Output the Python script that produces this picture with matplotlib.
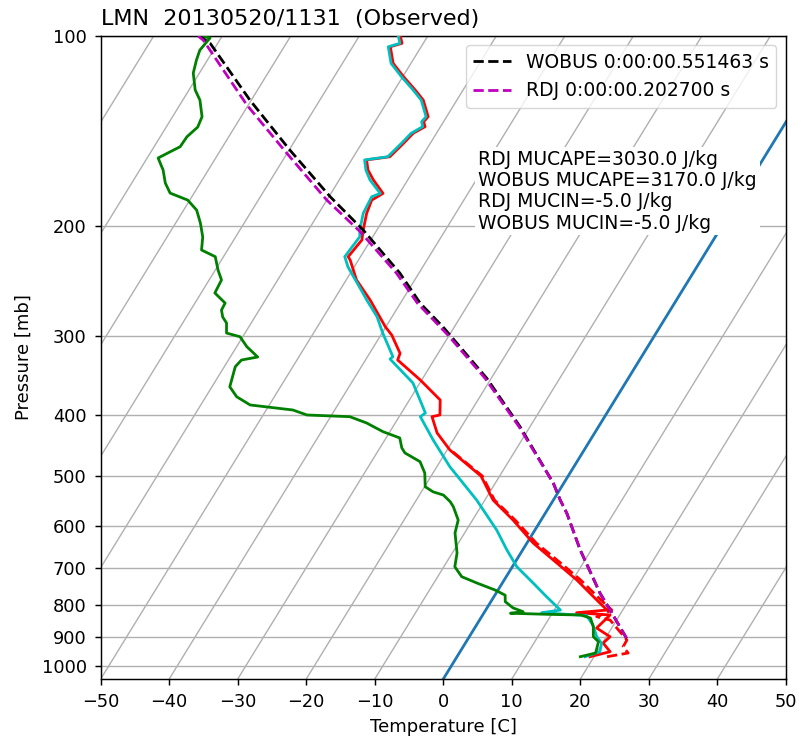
import numpy as np
import matplotlib
matplotlib.use("Agg")
import matplotlib.pyplot as plt
from matplotlib.ticker import FixedLocator, NullLocator, ScalarFormatter

# sounding (p in mb, T in C)
temp_p = [967.7, 950.2, 920.5, 899.5, 871.4, 830.8, 823.9, 815.9, 786.4, 731.0,
          686.9, 638.5, 587.0, 545.7, 500.0, 454.4, 426.9, 402.3, 399.8, 378.5,
          351.8, 327.0, 319.1, 298.5, 289.5, 262.6, 244.0, 226.9, 224.1, 210.8,
          203.3, 191.2, 182.2, 177.8, 169.3, 163.2, 157.3, 155.5, 148.0, 142.7,
          139.3, 136.8, 134.3, 126.4, 121.8, 116.0, 110.5, 104.0, 102.7, 100.0]
temp_t = [19.4, 21.9, 20.1, 20.55, 17.8, 18.6, 13.5, 17.7, 15.3, 10.6,
          6.15, 0.9, -4.1, -8.8, -12.7, -19.6, -23.0, -25.2, -24.2, -25.5,
          -30.2, -35.3, -35.55, -38.4, -40.1, -44.7, -48.5, -51.2, -51.8, -51.3,
          -52.0, -53.0, -53.45, -52.4, -55.0, -56.7, -57.8, -54.7, -53.9, -53.4,
          -52.25, -52.9, -52.7, -54.9, -57.0, -59.9, -62.6, -64.5, -63.1, -64.0]

wetb_p = [967.7, 950.2, 921.5, 899.5, 861.9, 832.5, 823.9, 815.9, 777.3, 739.2,
          696.4, 655.0, 608.7, 545.7, 483.1, 438.0, 402.3, 396.9, 355.7, 325.8,
          323.0, 296.3, 279.1, 262.6, 255.9, 232.7, 224.1, 208.3, 203.3, 191.2,
          180.0, 177.8, 169.3, 163.2, 157.3, 155.5, 148.0, 142.7, 139.3, 136.8,
          134.3, 126.4, 121.8, 116.0, 110.5, 104.0, 102.7, 100.0]
wetb_t = [18.7, 20.4, 19.9, 18.6, 17.0, 15.2, 8.4, 10.9, 7.7, 4.5,
          0.65, -2.3, -5.6, -11.2, -18.1, -22.95, -26.9, -26.5, -31.0, -36.5,
          -36.3, -39.9, -42.2, -45.2, -46.4, -50.9, -52.3, -51.9, -52.5, -53.5,
          -53.75, -52.8, -55.5, -57.0, -58.1, -55.0, -54.2, -53.7, -52.6, -53.2,
          -53.0, -55.2, -57.3, -60.2, -62.9, -64.8, -63.4, -64.3]

dewp_p = [967.7, 954.8, 916.1, 899.5, 867.2, 840.0, 830.8, 828.7, 825.5, 820.8,
          809.6, 791.3, 772.7, 758.5, 739.2, 722.2, 696.4, 662.4, 615.5, 587.0,
          559.2, 549.1, 535.8, 529.5, 519.8, 494.3, 474.3, 459.3, 451.0, 434.8,
          425.0, 411.6, 402.3, 399.8, 392.6, 385.4, 374.0, 360.6, 335.1, 327.0,
          323.4, 311.5, 300.3, 296.3, 285.6, 279.4, 272.4, 265.5, 255.9, 244.0,
          235.3, 224.1, 218.7, 208.5, 198.1, 189.0, 182.2, 177.6, 171.2, 163.2,
          156.2, 152.7, 149.9, 144.5, 139.5, 134.3, 126.4, 121.8, 114.5, 109.2,
          105.3, 100.7, 100.0]
dewp_t = [18.0, 19.9, 19.3, 18.1, 17.2, 16.0, 14.3, 9.3, 3.9, 5.6,
          3.8, 2.1, 1.5, -0.4, -3.7, -6.5, -8.4, -9.3, -11.4, -12.1,
          -14.0, -14.9, -16.5, -18.3, -19.9, -21.2, -22.9, -25.9, -26.8, -28.0,
          -31.0, -34.2, -37.2, -43.6, -46.1, -52.8, -55.5, -57.4, -58.4, -58.1,
          -56.0, -58.5, -60.4, -62.7, -63.6, -64.7, -65.5, -65.6, -68.0, -68.2,
          -69.6, -71.2, -73.8, -74.8, -76.4, -78.1, -80.3, -83.5, -85.1, -86.6,
          -88.4, -87.2, -86.2, -86.1, -85.4, -85.7, -87.5, -89.1, -90.9, -91.6,
          -92.0, -91.6, -93.2]

virt_p = [967.7, 954.8, 933.1, 910.4, 846.3, 836.0, 815.9, 786.4, 731.0, 686.9,
          638.5, 587.0, 545.7, 500.0, 454.4]
virt_t = [21.9, 24.65, 23.35, 23.3, 19.05, 16.8, 18.4, 15.9, 11.15, 6.7,
          1.35, -3.8, -8.6, -12.5, -19.5]

# parcel paths
wobus_p = [904.8, 815.9, 767.6, 655.0, 572.7, 545.7, 513.3, 417.3, 349.6, 298.5,
           289.5, 265.7, 237.9, 203.3, 180.0, 151.7, 126.4, 102.7, 100.3]
wobus_t = [23.1, 18.15, 15.2, 8.4, 3.15, 1.0, -1.5, -11.45, -20.65, -29.9,
           -31.7, -37.1, -42.8, -52.0, -59.8, -69.9, -80.2, -91.1, -93.1]
rdj_p = [904.8, 815.9, 767.6, 655.0, 572.7, 545.7, 513.3, 417.3, 349.6, 298.5,
         265.7, 237.9, 204.5, 182.2, 153.5, 128.7, 101.5, 100.0]
rdj_t = [23.1, 18.15, 15.2, 8.4, 3.15, 1.0, -1.5, -11.6, -20.9, -30.2,
         -37.5, -43.3, -52.3, -60.0, -70.05, -80.2, -92.4, -93.5]

labels = ["WOBUS 0:00:00.551463 s", "RDJ 0:00:00.202700 s"]
info = ["RDJ MUCAPE=3030.0 J/kg", "WOBUS MUCAPE=3170.0 J/kg",
        "RDJ MUCIN=-5.0 J/kg", "WOBUS MUCIN=-5.0 J/kg"]
title = "LMN  20130520/1131  (Observed)"

P_BOT, P_TOP = 1050.0, 100.0
T_LEFT, T_RIGHT = -50, 50
SKEW = np.tan(np.radians(30)) * (T_RIGHT - T_LEFT)
GRID = "#b0b0b0"


def skew_x(t, p):
    # shift temperature to the right with height (30 deg skew in axes units)
    t = np.asarray(t, dtype=float)
    p = np.asarray(p, dtype=float)
    frac = np.log(P_BOT / p) / np.log(P_BOT / P_TOP)
    return t + SKEW * frac


fig = plt.figure(figsize=(8.01, 7.40), dpi=100)
ax = fig.add_axes([0.1257, 0.0824, 0.8554, 0.8689])
ax.set_yscale("log")

# isotherms + pressure grid
for t0 in range(-150, 60, 10):
    ax.plot(skew_x([t0, t0], [P_BOT, P_TOP]), [P_BOT, P_TOP],
            color=GRID, lw=1.0, zorder=1)
for p0 in range(100, 1001, 100):
    ax.axhline(p0, color=GRID, lw=1.0, zorder=1)

ax.plot(skew_x([0, 0], [P_BOT, P_TOP]), [P_BOT, P_TOP], color="tab:blue", lw=2, zorder=2)

ax.plot(skew_x(virt_t, virt_p), virt_p, color="r", ls="--", lw=2, zorder=3)
ax.plot(skew_x(temp_t, temp_p), temp_p, color="r", lw=2, zorder=3)
ax.plot(skew_x(wetb_t, wetb_p), wetb_p, color="c", lw=2, zorder=4)
ax.plot(skew_x(dewp_t, dewp_p), dewp_p, color="g", lw=2, zorder=5)
ax.plot(skew_x(wobus_t, wobus_p), wobus_p, color="k", ls="--", lw=2, zorder=6, label=labels[0])
ax.plot(skew_x(rdj_t, rdj_p), rdj_p, color="m", ls="--", lw=2, zorder=7, label=labels[1])

ax.set_xlim(T_LEFT, T_RIGHT)
ax.set_ylim(P_BOT, P_TOP)
ax.yaxis.set_major_locator(FixedLocator(list(range(100, 1001, 100))))
ax.yaxis.set_major_formatter(ScalarFormatter())
ax.yaxis.set_minor_locator(NullLocator())
ax.set_xticks(range(-50, 51, 10))
ax.tick_params(labelsize=12.8, length=4.6, width=1.05, pad=5.5)
for sp in ax.spines.values():
    sp.set_linewidth(1.05)

ax.set_xlabel("Temperature [C]", fontsize=13, labelpad=5)
ax.set_ylabel("Pressure [mb]", fontsize=13, labelpad=6)
ax.set_title(title, loc="left", fontsize=16, pad=8)

ax.legend(loc="upper right", fontsize=13.5)
ax.text(0.551, 0.823, "\n".join(info), transform=ax.transAxes, fontsize=13.5,
        va="top", ha="left", zorder=10, linespacing=1.15,
        bbox=dict(facecolor="white", edgecolor="none", pad=2))

fig.savefig("out.png", dpi=100)
